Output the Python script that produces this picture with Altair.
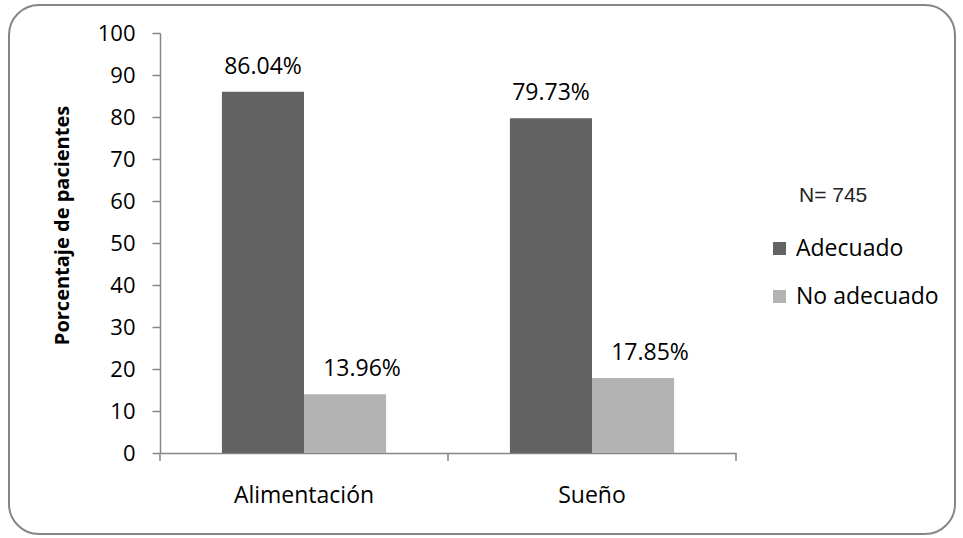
import altair as alt
import pandas as pd

categories = ["Alimentación", "Sueño"]
series = ["Adecuado", "No adecuado"]
adecuado = [86.04, 79.73]
no_adecuado = [13.96, 17.85]
label_adecuado = ["86.04%", "79.73%"]
label_no_adecuado = ["13.96%", "17.85%"]
y_ticks = list(range(0, 101, 10))
boundaries = [0, 1, 2]
note = ["N= 745"]
colors = ["#636363", "#b3b3b3"]
axis_color = "#868686"
FONT = "Open Sans"

rows = []
for i, c in enumerate(categories):
    rows.append({"categoria": c, "serie": series[0], "valor": adecuado[i], "etiqueta": label_adecuado[i]})
    rows.append({"categoria": c, "serie": series[1], "valor": no_adecuado[i], "etiqueta": label_no_adecuado[i]})
df = pd.DataFrame(rows)

W, H = 576, 420

x_enc = alt.X(
    "categoria:N", sort=categories,
    scale=alt.Scale(paddingInner=0.43, paddingOuter=0.215),
    axis=alt.Axis(title=None, labelAngle=0, ticks=False, domainColor=axis_color,
                  domainWidth=1.5, labelFontSize=23, labelFont=FONT, labelColor="#000000",
                  labelPadding=31),
)
xoff = alt.XOffset("serie:N", sort=series)
y_enc = alt.Y(
    "valor:Q", scale=alt.Scale(domain=[0, 100], nice=False),
    axis=alt.Axis(values=y_ticks, grid=False, title="Porcentaje de pacientes",
                  titleFont=FONT, titleFontSize=20, titleFontWeight="bold", titleColor="#000000",
                  titleX=-98, titleY=192, titleAngle=270, titleAlign="center", titleBaseline="middle",
                  labelFont=FONT, labelFontSize=22, labelColor="#000000", labelPadding=17,
                  tickSize=8, tickColor=axis_color, domainColor=axis_color, domainWidth=1.5,
                  tickWidth=1.5),
)

base = alt.Chart(df)

bars = base.mark_bar().encode(
    x=x_enc, xOffset=xoff, y=y_enc,
    color=alt.Color("serie:N", scale=alt.Scale(domain=series, range=colors),
                    legend=alt.Legend(title=None, orient="none", legendX=608, legendY=204,
                                      symbolType="square", symbolSize=170, symbolStrokeWidth=0,
                                      labelFont=FONT, labelFontSize=23, labelColor="#000000",
                                      labelOffset=5, rowPadding=24, padding=0)),
)

lab_a = base.transform_filter(alt.datum.serie == series[0]).mark_text(
    font=FONT, fontSize=23, baseline="alphabetic", dy=-18, color="#000000"
).encode(x=x_enc, xOffset=xoff, y=y_enc, text="etiqueta:N")

lab_b = base.transform_filter(alt.datum.serie == series[1]).mark_text(
    font=FONT, fontSize=23, baseline="alphabetic", dy=-18, dx=17, color="#000000"
).encode(x=x_enc, xOffset=xoff, y=y_enc, text="etiqueta:N")

main = alt.layer(bars, lab_a, lab_b)

ticks = alt.Chart(pd.DataFrame({"b": boundaries})).mark_rule(
    color=axis_color, strokeWidth=1.5
).encode(
    x=alt.X("b:Q", scale=alt.Scale(domain=[0, 2]), axis=None),
    y=alt.value(H), y2=alt.value(H + 8),
)

note_df = pd.DataFrame({"t": note})
note_text = alt.Chart(note_df).mark_text(
    font="Liberation Sans", fontSize=21, align="left", baseline="alphabetic", color="#222222"
).encode(x=alt.value(639), y=alt.value(169), text="t:N")

border = alt.Chart(note_df).mark_rect(
    fill=None, stroke=axis_color, strokeWidth=2, cornerRadius=30, clip=False
).encode(x=alt.value(-151), x2=alt.value(795), y=alt.value(-28), y2=alt.value(501))

chart = alt.layer(border, main, ticks, note_text).resolve_scale(
    x="independent"
).properties(
    width=W, height=H,
    padding={"left": 160, "top": 33, "right": 227, "bottom": 85},
    autosize=alt.AutoSizeParams(type="none"),
    background="white",
).configure_view(stroke=None)

chart.save("out.html", embed_options={"renderer": "svg", "actions": False})
